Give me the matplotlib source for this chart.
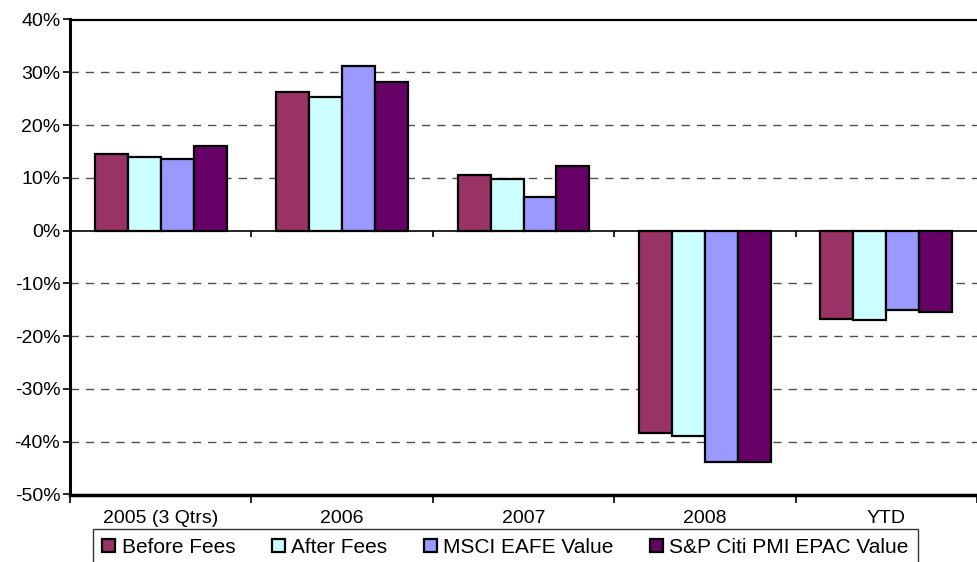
import matplotlib
matplotlib.use("Agg")
import matplotlib.pyplot as plt
import numpy as np
from matplotlib.ticker import FixedLocator, FuncFormatter

plt.rcParams['font.family'] = ['Liberation Sans', 'DejaVu Sans']

categories = ["2005 (3 Qtrs)", "2006", "2007", "2008", "YTD"]
series_names = ["Before Fees", "After Fees", "MSCI EAFE Value", "S&P Citi PMI EPAC Value"]
before_fees = [14.5, 26.2, 10.6, -38.4, -16.7]
after_fees = [14.0, 25.4, 9.8, -38.9, -16.9]
msci_eafe = [13.6, 31.1, 6.4, -43.8, -15.1]
sp_citi = [16.0, 28.1, 12.2, -43.8, -15.5]
colors = ["#993366", "#CCFFFF", "#9999FF", "#660066"]
y_ticks = [40, 30, 20, 10, 0, -10, -20, -30, -40, -50]

series = [before_fees, after_fees, msci_eafe, sp_citi]

fig = plt.figure(figsize=(9.77, 5.62), dpi=100)
ax = fig.add_axes([70/977, 67.5/562, 1 - 70/977, 475/562])

x = np.arange(len(categories))
w = 1/5.5
for i, (vals, c, name) in enumerate(zip(series, colors, series_names)):
    ax.bar(x + (i - 1.5)*w, vals, width=w, color=c, edgecolor="black",
           linewidth=1.6, label=name, zorder=3)

ax.set_xlim(-0.5, len(categories) - 0.5)
ax.set_ylim(-50, 40)
ax.yaxis.set_major_locator(FixedLocator(y_ticks))
ax.yaxis.set_major_formatter(FuncFormatter(lambda v, p: f"{int(v)}%"))

for v in y_ticks:
    if v in (40, -50):
        continue
    if v == 0:
        ax.axhline(0, color="black", linewidth=1.2, zorder=4)
    else:
        ax.axhline(v, color="#505050", linewidth=1.0, linestyle=(0, (6, 5)), zorder=1)

# category boundary ticks on the zero line
bounds = np.arange(len(categories) - 1) + 0.5
ax.vlines(bounds, -1.2, 0, color="black", linewidth=1.2, zorder=4)

ax.set_xticks(x)
ax.set_xticklabels(categories)
ax.set_xticks(np.arange(len(categories) + 1) - 0.5, minor=True)
ax.tick_params(axis="x", which="major", length=0, pad=11, labelsize=14)
ax.tick_params(axis="x", which="minor", length=6, width=1.2, direction="out")
ax.tick_params(axis="y", length=5, width=1.2, direction="out", labelsize=14, pad=2)

ax.spines["left"].set_linewidth(2.2)
ax.spines["bottom"].set_linewidth(2.5)
ax.spines["top"].set_linewidth(1.6)
ax.spines["right"].set_visible(False)

leg = fig.legend(loc="upper center", bbox_to_anchor=(505.5/977, 1 - 528.5/562), ncol=4,
                 frameon=True, fancybox=False, edgecolor="black", fontsize=15,
                 handlelength=0.63, handleheight=0.63, handletextpad=0.3,
                 columnspacing=1.75, borderpad=0.45, borderaxespad=0)
leg.get_frame().set_linewidth(1.0)

fig.savefig("out.png", dpi=100)
